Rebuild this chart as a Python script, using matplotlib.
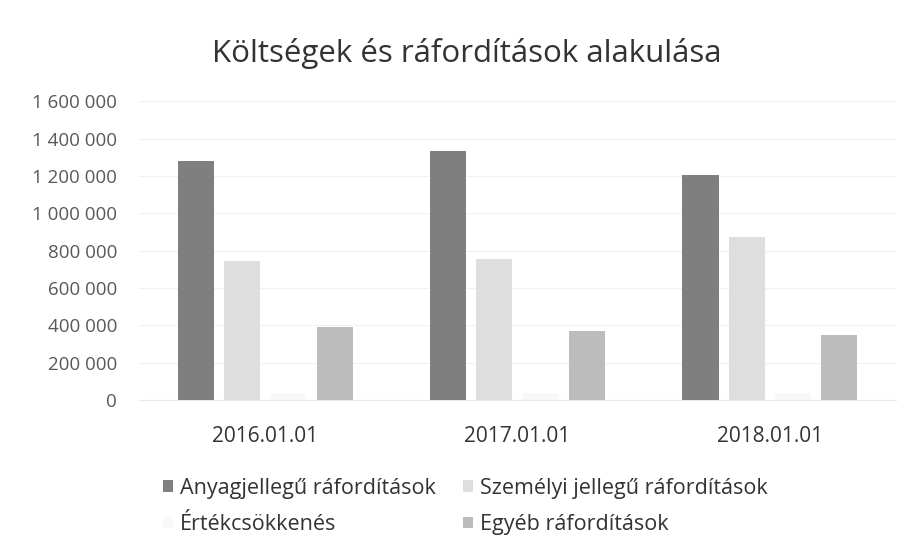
import matplotlib
matplotlib.use("Agg")
import matplotlib.pyplot as plt
import numpy as np
from matplotlib.ticker import FuncFormatter
from matplotlib.patches import Patch

categories = ["2016.01.01", "2017.01.01", "2018.01.01"]
series_names = ["Anyagjellegű ráfordítások", "Személyi jellegű ráfordítások",
                "Értékcsökkenés", "Egyéb ráfordítások"]
anyag = [1280000, 1332000, 1205000]
szemelyi = [745000, 755000, 872000]
ertekcsokk = [40000, 40000, 40000]
egyeb = [390000, 370000, 348000]
yticks = [0, 200000, 400000, 600000, 800000, 1000000, 1200000, 1400000, 1600000]

series = [anyag, szemelyi, ertekcsokk, egyeb]
colors = ["#7f7f7f", "#dedede", "#f8f8f8", "#bcbcbc"]

plt.rcParams['font.family'] = ['Open Sans', 'DejaVu Sans']

fig = plt.figure(figsize=(9.16, 5.38), dpi=100)
ax = fig.add_axes([0.152, 0.2565, 0.826, 0.5555])

x = np.arange(len(categories))
step = 0.183
width = 0.143
for i, (vals, c) in enumerate(zip(series, colors)):
    ax.bar(x + (i - 1.5) * step, vals, width, color=c, zorder=3, label=series_names[i])

ax.set_xlim(-0.5, 2.5)
ax.set_ylim(0, 1600000)
ax.set_yticks(yticks)
ax.yaxis.set_major_formatter(FuncFormatter(lambda v, p: f"{int(v):,}".replace(",", " ")))
ax.set_xticks(x)
ax.set_xticklabels(categories)
ax.grid(axis='y', color='#f1f1f1', linewidth=0.8, zorder=0)
for s in ['top', 'right', 'left']:
    ax.spines[s].set_visible(False)
ax.spines['bottom'].set_color('#e8e8e8')
ax.tick_params(axis='both', length=0, colors='#595959')
ax.tick_params(axis='y', pad=16, labelsize=13.5)
ax.tick_params(axis='x', pad=19, labelsize=15)
for lbl in ax.get_xticklabels():
    lbl.set_color('#333333')

fig.text(0.51, 0.900, "Költségek és ráfordítások alakulása", ha='center', va='center',
         fontsize=22.5, color='#333333')

order = [0, 2, 1, 3]
handles = [Patch(facecolor=colors[i], edgecolor='none') for i in order]
labels = [series_names[i] for i in order]
leg = fig.legend(handles, labels, loc='center', bbox_to_anchor=(0.508, 0.059),
                 ncol=2, frameon=False, fontsize=15.5, handlelength=0.45, handleheight=0.45,
                 handletextpad=0.3, columnspacing=1.3, labelspacing=0.72,
                 borderpad=0, borderaxespad=0)
for t in leg.get_texts():
    t.set_color('#333333')

fig.savefig("out.png", dpi=100, facecolor='white')
